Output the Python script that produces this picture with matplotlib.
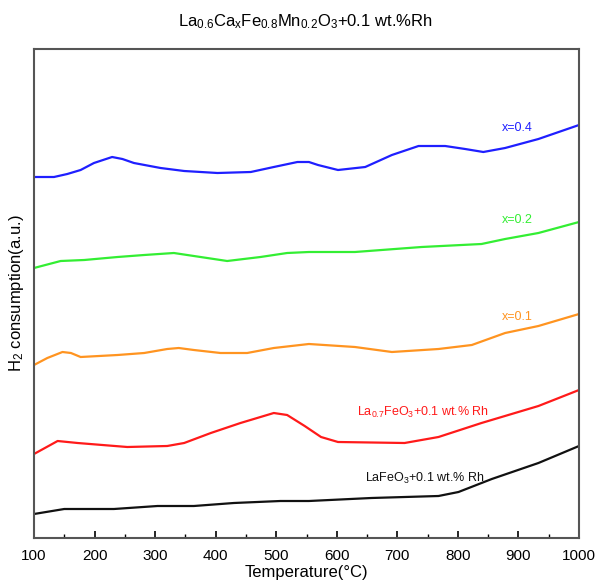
import matplotlib
matplotlib.use("Agg")
import matplotlib.pyplot as plt
import numpy as np

plt.rcParams['font.family'] = ['Liberation Sans', 'DejaVu Sans']
plt.rcParams['mathtext.fontset'] = 'custom'
plt.rcParams['mathtext.rm'] = 'Liberation Sans'
plt.rcParams['mathtext.it'] = 'Liberation Sans'

# Temperatures (°C) and signals (arbitrary units, offset-stacked)
t_blue = [100, 133, 155, 177, 199, 229, 246, 265, 309, 348, 403, 458, 496, 535, 554,
          569, 602, 647, 691, 735, 779, 812, 842, 878, 933, 1000]
v_blue = [361, 361, 364, 368, 375, 381, 379, 375, 370, 367, 365, 366, 371, 376, 376,
          373, 368, 371, 383, 392, 392, 389, 386, 390, 399, 413]

t_green = [100, 144, 183, 238, 282, 331, 364, 419, 474, 518, 554, 630, 740, 839, 878, 933, 1000]
v_green = [270, 277, 278, 281, 283, 285, 282, 277, 281, 285, 286, 286, 291, 294, 299, 305, 316]

t_orange = [100, 122, 147, 161, 177, 238, 282, 320, 339, 364, 408, 452, 496, 554,
            630, 691, 768, 823, 878, 933, 1000]
v_orange = [173, 180, 186, 185, 181, 183, 185, 189, 190, 188, 185, 185, 190, 194,
            191, 186, 189, 193, 205, 212, 224]

t_red = [100, 139, 172, 254, 320, 348, 392, 441, 496, 518, 547, 574, 602, 712, 768, 839, 933, 1000]
v_red = [84, 97, 95, 91, 92, 95, 105, 115, 125, 123, 112, 101, 96, 95, 101, 115, 132, 148]

t_black = [100, 150, 232, 304, 364, 430, 507, 554, 657, 768, 801, 856, 933, 1000]
v_black = [24, 29, 29, 32, 32, 35, 37, 37, 40, 42, 46, 59, 75, 92]

series = [
    (t_blue, v_blue, '#1f1fff'),
    (t_green, v_green, '#33ee33'),
    (t_orange, v_orange, '#ff9420'),
    (t_red, v_red, '#ff1a1a'),
    (t_black, v_black, '#111111'),
]

fig = plt.figure(figsize=(5.96, 5.88), dpi=100)
ax = fig.add_axes([34/596, 1-538/588, (579-34)/596, (538-49)/588])

for t, v, c in series:
    ax.plot(t, v, color=c, lw=1.6, solid_joinstyle='round')

ax.set_xlim(100, 1000)
ax.set_ylim(0, 489)
ax.set_xticks(np.arange(100, 1001, 100))
ax.set_xticks(np.arange(150, 1000, 100), minor=True)
ax.set_yticks([])
ax.tick_params(axis='x', direction='in', length=5, width=1.2, labelsize=11, pad=8)
ax.tick_params(axis='x', which='minor', direction='in', length=3, width=1.0)
for s in ax.spines.values():
    s.set_color('#555555')
    s.set_linewidth(1.5)

ax.set_xlabel('Temperature(°C)', fontsize=12, labelpad=1)
ax.set_ylabel('H$_2$ consumption(a.u.)', fontsize=12, labelpad=6)

fig.text(305/596, 1-22/588, r'La$_{0.6}$Ca$_x$Fe$_{0.8}$Mn$_{0.2}$O$_3$+0.1 wt.%Rh',
         ha='center', va='center', fontsize=12)

ax.text(898, 410, 'x=0.4', color='#1f1fff', fontsize=9, ha='center', va='center')
ax.text(898, 318, 'x=0.2', color='#33ee33', fontsize=9, ha='center', va='center')
ax.text(898, 221, 'x=0.1', color='#ff9420', fontsize=9, ha='center', va='center')
ax.text(742, 126, r'La$_{0.7}$FeO$_3$+0.1 wt.% Rh', color='#ff1a1a', fontsize=9, ha='center', va='center')
ax.text(745, 60, r'LaFeO$_3$+0.1 wt.% Rh', color='#111111', fontsize=9, ha='center', va='center')

fig.savefig('out.png', dpi=100)
